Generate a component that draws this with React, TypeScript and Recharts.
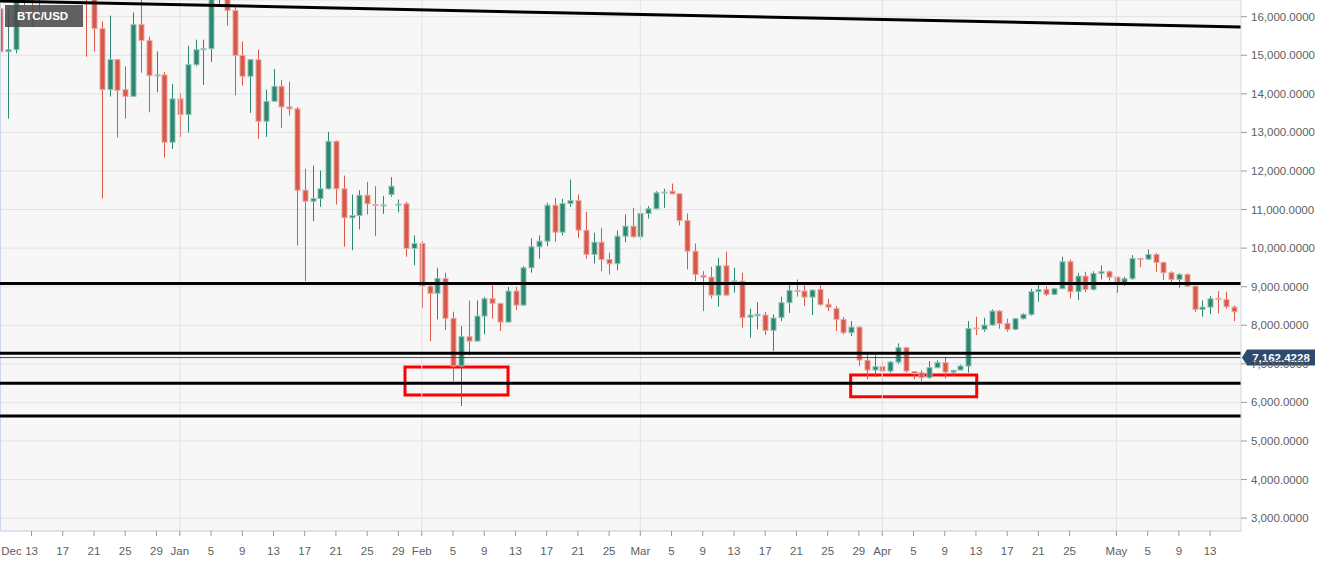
import React from 'react'
import {
  Bar,
  CartesianGrid,
  ComposedChart,
  ReferenceArea,
  ReferenceLine,
  XAxis,
  YAxis,
} from 'recharts'

// daily BTC/USD candles, index 0 = Dec 9 ... index 158 = May 16
const opens = [
  16207, 15094, 15145, 16700, 17200, 16500, 16800, 17700, 19400, 19000, 18900, 17500, 16600, 15690, 14110, 14886,
  14110, 13935, 15793, 15386, 14472, 14490, 12744, 13870, 13462, 14757, 15145, 15170, 16900, 17100, 16163, 14998,
  14454, 14886, 13288, 13806, 14195, 13661, 13610, 11501, 11216, 11286, 11538, 12770, 11538, 10786, 10846, 11372,
  11131, 11105, 11390, 11120, 11149, 9990, 10120, 9015, 8826, 9214, 8178, 6943, 7705, 7590, 8238, 8688,
  8567, 8083, 8886, 8523, 9491, 10035, 10180, 11113, 10414, 11157, 11235, 10465, 9836, 10155, 9706, 9595,
  10310, 10569, 10294, 10898, 11020, 11434, 11476, 11408, 10716, 9921, 9292, 9248, 8782, 9543, 9130, 9145,
  8212, 8248, 8264, 7867, 8196, 8585, 8905, 8886, 8730, 8929, 8541, 8437, 8152, 7807, 7953, 7090,
  6839, 6927, 6813, 7046, 7419, 6798, 6772, 6643, 6901, 7030, 6787, 6840, 6943, 7930, 7894, 8005,
  8368, 8049, 7893, 8170, 8282, 8870, 8929, 8800, 8947, 9647, 8870, 9275, 8929, 9344, 9388, 9248,
  9103, 9206, 9732, 9715, 9836, 9629, 9362, 9188, 9318, 9015, 8412, 8471, 8700, 8670, 8471,
]
const highs = [
  16350, 16200, 17000, 17500, 17400, 17200, 17900, 19600, 19800, 19200, 19000, 17800, 17300, 15880, 16030, 14900,
  14713, 16111, 16500, 15480, 15100, 14570, 14257, 14015, 15249, 15404, 15404, 17200, 17250, 17200, 16267, 15360,
  14900, 15145, 14110, 14645, 14360, 14317, 13660, 12055, 12140, 12011, 13013, 12790, 11882, 11390, 11501, 11718,
  11605, 11355, 11838, 11260, 11200, 10328, 10180, 9050, 9491, 9362, 8352, 7979, 8644, 8644, 8730, 9058,
  8580, 8990, 8990, 9533, 10250, 10328, 11175, 11304, 11278, 11778, 11390, 10942, 10397, 10527, 9880, 10457,
  10872, 11045, 11088, 11088, 11476, 11538, 11675, 11410, 10898, 10120, 9404, 9517, 9750, 9906, 9491, 9362,
  8430, 8600, 8350, 8282, 8740, 9058, 9188, 9058, 8930, 9033, 8688, 8497, 8212, 8108, 7970, 7246,
  7220, 7057, 7073, 7530, 7440, 6813, 6839, 7073, 7090, 7186, 6850, 6980, 8108, 8222, 8196, 8410,
  8390, 8170, 8190, 8310, 8947, 9058, 9015, 8970, 9776, 9706, 9362, 9388, 9400, 9550, 9420, 9260,
  9260, 9818, 9750, 9965, 9880, 9650, 9400, 9350, 9350, 9020, 8644, 8756, 8886, 8870, 8516,
]
const lows = [
  13617, 13358, 15050, 16300, 15750, 16180, 16600, 17400, 18600, 17900, 16900, 14964, 15094, 11286, 13930, 12866,
  13358, 13935, 14550, 13521, 14040, 12348, 12573, 12884, 12998, 14715, 14231, 14827, 16267, 15767, 13962, 14213,
  13506, 12832, 12884, 14130, 13117, 13436, 10069, 9145, 10698, 11071, 11520, 11131, 10035, 9947, 10483, 10872,
  10310, 10890, 11330, 10932, 9776, 9559, 8456, 7590, 8152, 7875, 6554, 5907, 7220, 7580, 7764, 8170,
  7850, 8070, 8393, 8510, 9362, 9724, 10051, 10165, 10328, 11071, 10268, 9724, 9603, 9404, 9318, 9421,
  10155, 10268, 10206, 10768, 11010, 11045, 11400, 10587, 9447, 9145, 8368, 8696, 8481, 8760, 8844, 7937,
  7678, 7893, 7746, 7331, 8108, 8320, 8740, 8497, 8264, 8497, 8368, 7850, 7764, 7720, 6943, 6598,
  6668, 6451, 6772, 7000, 6772, 6598, 6554, 6610, 6890, 6616, 6680, 6830, 6772, 7746, 7833, 7990,
  7910, 7833, 7870, 8150, 8250, 8610, 8756, 8780, 8940, 8696, 8652, 8860, 8900, 9188, 9160, 8844,
  9020, 9180, 9507, 9690, 9388, 9170, 9058, 8973, 9000, 8342, 8222, 8290, 8308, 8430, 8108,
]
const closes = [
  15094, 15145, 16700, 17200, 16500, 16800, 17700, 19400, 19000, 18900, 17500, 16600, 15690, 14110, 14886, 14090,
  13935, 15793, 15386, 14472, 14490, 12744, 13870, 13462, 14757, 15145, 15170, 16900, 17100, 16163, 14998, 14454,
  14886, 13288, 13806, 14195, 13661, 13610, 11501, 11216, 11286, 11538, 12770, 11538, 10786, 10846, 11372, 11149,
  11105, 11120, 11605, 11140, 9990, 10120, 9015, 8826, 9214, 8178, 6943, 7705, 7590, 8238, 8688, 8567,
  8083, 8886, 8523, 9491, 10035, 10180, 11113, 10414, 11157, 11235, 10465, 9836, 10155, 9706, 9595, 10310,
  10569, 10294, 10898, 11020, 11434, 11455, 11408, 10716, 9921, 9318, 9248, 8782, 9543, 8782, 9150, 8196,
  8264, 8282, 7867, 8186, 8585, 8903, 8880, 8730, 8911, 8541, 8471, 8152, 7807, 7953, 7098, 6839,
  6927, 6813, 7046, 7419, 6813, 6746, 6643, 6901, 7030, 6787, 6830, 6943, 7919, 7905, 8005, 8368,
  8049, 7893, 8170, 8282, 8870, 8929, 8800, 8947, 9647, 8870, 9275, 8929, 9344, 9388, 9248, 9103,
  9206, 9732, 9715, 9836, 9629, 9362, 9188, 9318, 9015, 8412, 8471, 8688, 8680, 8481, 8350,
]

const tickIndex = [0, 4, 8, 12, 16, 20, 23, 27, 31, 35, 39, 43, 47, 51, 54, 58, 62, 66, 70, 74, 78, 82, 86, 90, 94, 98, 102, 106, 110, 113, 117, 121, 125, 129, 133, 137, 143, 147, 151, 155]
const tickLabels = ['Dec', '13', '17', '21', '25', '29', 'Jan', '5', '9', '13', '17', '21', '25', '29', 'Feb', '5', '9', '13', '17', '21', '25', 'Mar', '5', '9', '13', '17', '21', '25', '29', 'Apr', '5', '9', '13', '17', '21', '25', 'May', '5', '9', '13']
const monthStarts = [23, 54, 82, 113, 143]
const priceTicks = [3000, 4000, 5000, 6000, 7000, 8000, 9000, 10000, 11000, 12000, 13000, 14000, 15000, 16000]
const levels = [9085, 7275, 6495, 5645]
const lastPrice = 7162.4228
const trendLine = [
  { x: -0.04, y: 16407 },
  { x: 158.96, y: 15733 },
]
const supportBoxes = [
  { x1: 51.85, x2: 65.05, y1: 6191, y2: 6917 },
  { x1: 108.95, x2: 125.1, y1: 6147, y2: 6709 },
]

const rows = opens.map((o, i) => ({
  i,
  o,
  h: highs[i],
  l: lows[i],
  c: closes[i],
  range: [lows[i], highs[i]],
}))

const RED = '#d8584a'
const RED_EDGE = '#eba79e'
const GREEN = '#2c8770'
const GREEN_EDGE = '#93c4b6'
const AXIS = '#ccd6eb'
const FONT = '"Liberation Sans", Arial, sans-serif'

function Candle(props: any) {
  const { x, y, width, height, payload } = props
  if (!payload || !height) return null
  const { o, h, l, c } = payload
  const up = c >= o
  const k = height / (h - l)
  const cx = Math.round(x + width / 2) + 0.5
  const yo = y + (h - o) * k
  const yc = y + (h - c) * k
  const top = Math.min(yo, yc)
  const bh = Math.max(1, Math.abs(yo - yc))
  return (
    <g>
      <line x1={cx} x2={cx} y1={y} y2={y + height} stroke={up ? GREEN : RED} strokeWidth={1} />
      <rect
        x={cx - 2.5}
        y={top}
        width={5}
        height={bh}
        fill={up ? GREEN : RED}
        stroke={up ? GREEN_EDGE : RED_EDGE}
        strokeWidth={1}
      />
    </g>
  )
}

function DayTick(props: any) {
  const { x, y, payload } = props
  const label = tickLabels[tickIndex.indexOf(payload.value)]
  const first = payload.value === tickIndex[0]
  return (
    <g>
      {!first && <line x1={x} x2={x} y1={y} y2={y + 5} stroke="#999" />}
      <text
        x={first ? x + 1 : x}
        y={y + 24}
        textAnchor={first ? 'start' : 'middle'}
        fill="#606060"
        fontSize={11.5}
        fontFamily={FONT}
      >
        {label}
      </text>
    </g>
  )
}

function PriceTag(props: any) {
  const { viewBox } = props
  if (!viewBox) return null
  const x = viewBox.x + viewBox.width
  const y = viewBox.y
  return (
    <g>
      <path
        d={`M${x + 1},${y} L${x + 6},${y - 8} L${x + 74},${y - 8} L${x + 74},${y + 8} L${x + 6},${y + 8} Z`}
        fill="#2d4a6f"
      />
      <text
        x={x + 40}
        y={y}
        dy="0.36em"
        textAnchor="middle"
        fill="#fff"
        fontSize={11.5}
        fontWeight="bold"
        fontFamily={FONT}
      >
        {lastPrice.toLocaleString('en-US', { minimumFractionDigits: 4 })}
      </text>
    </g>
  )
}

export default function App() {
  return (
    <div style={{ position: 'absolute', left: 0, top: 0, width: 1331, height: 566, background: '#fff' }}>
      <ComposedChart width={1331} height={566} data={rows} margin={{ top: 0, right: 0, left: 0, bottom: 0 }}>
        <CartesianGrid vertical={false} stroke="#e2e2e2" fill="#f7f7f7" fillOpacity={1} />
        {monthStarts.map((m) => (
          <ReferenceLine key={m} x={m} stroke="#e2e2e2" strokeWidth={1} />
        ))}
        <XAxis
          type="number"
          dataKey="i"
          domain={[-0.04, 158.96]}
          allowDataOverflow
          ticks={tickIndex}
          interval={0}
          height={35}
          tickLine={false}
          tickSize={0}
          tickMargin={0}
          axisLine={{ stroke: AXIS }}
          tick={<DayTick />}
        />
        <YAxis
          orientation="right"
          type="number"
          domain={[2666, 16433]}
          allowDataOverflow
          ticks={priceTicks}
          interval={0}
          width={90}
          tickSize={6}
          tickMargin={4}
          tickLine={{ stroke: '#999' }}
          axisLine={{ stroke: AXIS }}
          tick={{ fill: '#606060', fontSize: 11.5, fontFamily: FONT }}
          tickFormatter={(v: number) => v.toLocaleString('en-US', { minimumFractionDigits: 4 })}
        />
        <ReferenceLine x={-0.04} stroke={AXIS} strokeWidth={2} />
        <Bar dataKey="range" barSize={6} shape={<Candle />} isAnimationActive={false} />
        <ReferenceLine segment={trendLine} stroke="#000" strokeWidth={3} />
        {levels.map((v) => (
          <ReferenceLine key={v} y={v} stroke="#000" strokeWidth={3} />
        ))}
        <ReferenceLine y={lastPrice} stroke="#2d4a6f" strokeWidth={1} label={<PriceTag />} />
        {supportBoxes.map((b, k) => (
          <ReferenceArea
            key={k}
            x1={b.x1}
            x2={b.x2}
            y1={b.y1}
            y2={b.y2}
            fill="none"
            fillOpacity={0}
            stroke="#ff0000"
            strokeWidth={3}
          />
        ))}
      </ComposedChart>
      <div
        style={{
          position: 'absolute',
          left: 5,
          top: 5,
          width: 78,
          height: 22,
          background: 'rgba(75,75,75,0.88)',
          color: '#fff',
          fontFamily: FONT,
          fontWeight: 'bold',
          fontSize: 11.5,
          lineHeight: '22px',
          paddingLeft: 12,
          boxSizing: 'border-box',
        }}
      >
        BTC/USD
      </div>
    </div>
  )
}
